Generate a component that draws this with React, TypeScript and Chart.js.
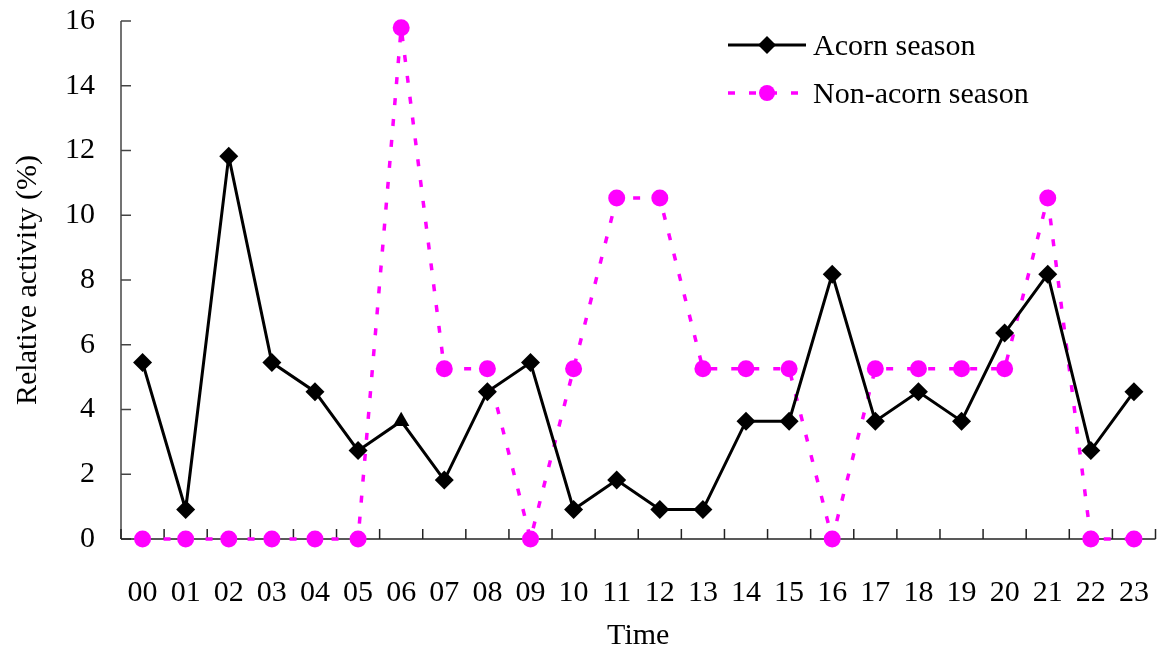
import React, { useEffect, useRef } from "react";
import { Chart, registerables } from "chart.js";

Chart.register(...registerables);

const categories = ["00","01","02","03","04","05","06","07","08","09","10","11","12","13","14","15","16","17","18","19","20","21","22","23"];
const acornSeason = [5.45, 0.91, 11.82, 5.45, 4.55, 2.73, 3.64, 1.82, 4.55, 5.45, 0.91, 1.82, 0.91, 0.91, 3.64, 3.64, 8.18, 3.64, 4.55, 3.64, 6.36, 8.18, 2.73, 4.55];
const nonAcornSeason = [0, 0, 0, 0, 0, 0, 15.79, 5.26, 5.26, 0, 5.26, 10.53, 10.53, 5.26, 5.26, 5.26, 0, 5.26, 5.26, 5.26, 5.26, 10.53, 0, 0];
const seriesNames = ["Acorn season", "Non-acorn season"];
const yTicks = [0, 2, 4, 6, 8, 10, 12, 14, 16];

const FONT = "'Liberation Serif', 'DejaVu Serif', serif";
const MAGENTA = "#FF00FF";

const acornPointStyles = acornSeason.map((_, i) => (i === 6 ? "triangle" : "rectRot"));

const axesPlugin = {
  id: "customAxes",
  beforeDatasetsDraw(chart: any) {
    const { ctx, chartArea } = chart;
    const x = chart.scales.x;
    const y = chart.scales.y;
    ctx.save();
    ctx.strokeStyle = "#444";
    ctx.lineWidth = 1.5;
    // y axis
    ctx.beginPath();
    ctx.moveTo(chartArea.left, y.getPixelForValue(16));
    ctx.lineTo(chartArea.left, y.getPixelForValue(0));
    ctx.stroke();
    yTicks.forEach((v) => {
      const py = y.getPixelForValue(v);
      ctx.beginPath();
      ctx.moveTo(chartArea.left, py);
      ctx.lineTo(chartArea.left + 10, py);
      ctx.stroke();
    });
    // x axis
    const y0 = y.getPixelForValue(0);
    ctx.strokeStyle = "#222";
    ctx.beginPath();
    ctx.moveTo(chartArea.left, y0);
    ctx.lineTo(chartArea.right, y0);
    ctx.stroke();
    const n = categories.length;
    const step = n > 1 ? x.getPixelForValue(1) - x.getPixelForValue(0) : 0;
    for (let i = 0; i <= n; i++) {
      const px = x.getPixelForValue(0) - step / 2 + i * step;
      ctx.beginPath();
      ctx.moveTo(px, y0);
      ctx.lineTo(px, y0 - 10);
      ctx.stroke();
    }
    ctx.restore();
  },
};

const legendPlugin = {
  id: "customLegend",
  afterDraw(chart: any) {
    const { ctx } = chart;
    const rows = [
      { y: 45, ds: chart.data.datasets[0], style: "rectRot" },
      { y: 93, ds: chart.data.datasets[1], style: "circle" },
    ];
    ctx.save();
    rows.forEach((r) => {
      ctx.strokeStyle = r.ds.borderColor;
      ctx.lineWidth = r.ds.borderWidth;
      ctx.setLineDash(r.ds.borderDash || []);
      ctx.beginPath();
      ctx.moveTo(728, r.y);
      ctx.lineTo(806, r.y);
      ctx.stroke();
      ctx.setLineDash([]);
      ctx.fillStyle = r.ds.pointBackgroundColor;
      ctx.beginPath();
      if (r.style === "rectRot") {
        const rr = 9;
        ctx.moveTo(767 - rr, r.y);
        ctx.lineTo(767, r.y - rr);
        ctx.lineTo(767 + rr, r.y);
        ctx.lineTo(767, r.y + rr);
        ctx.closePath();
      } else {
        ctx.arc(767, r.y, 8, 0, Math.PI * 2);
      }
      ctx.fill();
      ctx.fillStyle = "#000";
      ctx.font = `30px ${FONT}`;
      ctx.textAlign = "left";
      ctx.textBaseline = "middle";
      ctx.fillText(r.ds.label, 813, r.y + 2);
    });
    ctx.restore();
  },
};

export default function App() {
  const ref = useRef<HTMLCanvasElement | null>(null);
  useEffect(() => {
    if (!ref.current) return;
    const chart = new Chart(ref.current, {
      type: "line",
      data: {
        labels: categories,
        datasets: [
          {
            label: seriesNames[0],
            data: acornSeason,
            borderColor: "#000",
            borderWidth: 3,
            pointStyle: acornPointStyles as any,
            pointRadius: 9.5,
            pointBackgroundColor: "#000",
            pointBorderColor: "#000",
            pointBorderWidth: 0,
            tension: 0,
            clip: false as any,
          },
          {
            label: seriesNames[1],
            data: nonAcornSeason,
            borderColor: MAGENTA,
            borderWidth: 3.5,
            borderDash: [7, 14],
            pointStyle: "circle",
            pointRadius: 8.5,
            pointBackgroundColor: MAGENTA,
            pointBorderColor: MAGENTA,
            pointBorderWidth: 0,
            tension: 0,
            clip: false as any,
          },
        ],
      },
      options: {
        responsive: false,
        animation: false,
        layout: { padding: { top: 21, right: 4, left: 0, bottom: 0 } },
        plugins: { legend: { display: false }, tooltip: { enabled: false } },
        scales: {
          x: {
            offset: true,
            grid: { display: false, drawTicks: false, offset: true },
            border: { display: false },
            ticks: { color: "#000", font: { family: FONT, size: 30 }, padding: 36, maxRotation: 0, autoSkip: false },
            title: { display: true, text: "Time", color: "#000", font: { family: FONT, size: 30 }, padding: { top: 0, bottom: 1 } },
            afterFit: (s: any) => { s.height = 116; s.paddingLeft = 0; s.paddingRight = 0; },
          },
          y: {
            min: 0,
            max: 16,
            grid: { display: false, drawTicks: false },
            border: { display: false },
            ticks: { stepSize: 2, color: "#000", font: { family: FONT, size: 30 }, padding: 26 },
            title: { display: true, text: "Relative activity (%)", color: "#000", font: { family: FONT, size: 30 }, padding: { top: 10, bottom: 0 } },
            afterFit: (s: any) => { s.width = 121; s.paddingTop = 0; s.paddingBottom = 0; },
          },
        },
      },
      plugins: [axesPlugin, legendPlugin],
    });
    return () => chart.destroy();
  }, []);
  return (
    <div style={{ position: "fixed", left: 0, top: 0, width: 1165, height: 655, background: "#fff" }}>
      <canvas ref={ref} width={1165} height={655} style={{ display: "block" }} />
    </div>
  );
}
